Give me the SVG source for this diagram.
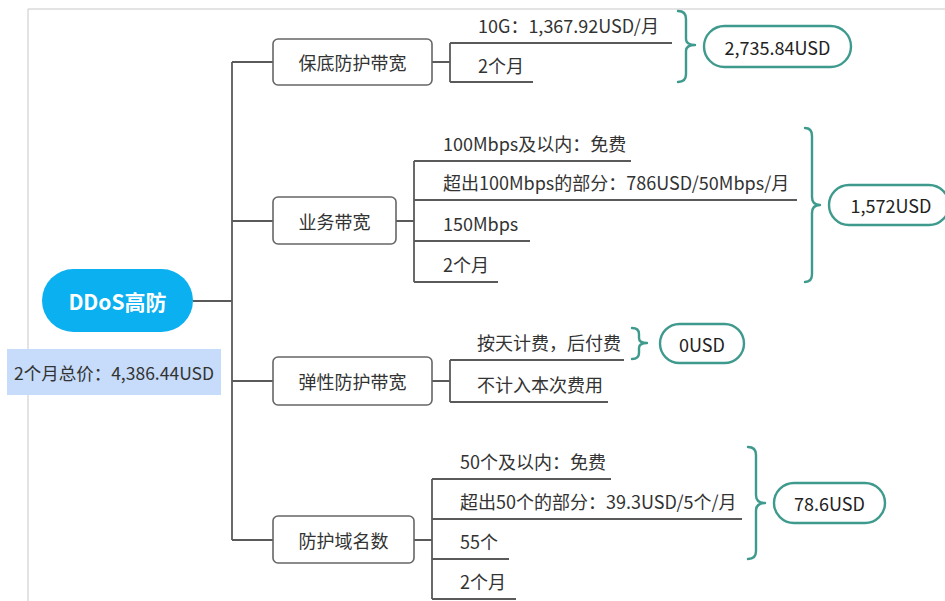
<svg xmlns="http://www.w3.org/2000/svg" width="945" height="601" viewBox="0 0 945 601">
<style>
text{font-family:"Noto Sans CJK SC","Microsoft YaHei","Noto Sans",sans-serif;fill:#333;}
.box{fill:#fff;stroke:#666;stroke-width:1.6;}
.ln{fill:none;stroke:#5a5a5a;stroke-width:1.8;}
.br{fill:none;stroke:#3f9a8e;stroke-width:2.4;stroke-linecap:round;stroke-linejoin:round;}
.pill{fill:#fff;stroke:#3f9a8e;stroke-width:2.4;}
.t{font-size:18px;}
.bt{font-size:18px;text-anchor:middle;dominant-baseline:central;}
.pt{font-size:18px;text-anchor:middle;dominant-baseline:central;fill:#222;}
</style>
<rect width="945" height="601" fill="#fff"/>
<path d="M28,601 V9 H945" fill="none" stroke="#c8c8c8" stroke-width="1"/>

<g id="connectors">
<path class="ln" d="M193,301 H232 M232,62 V540 M232,62 H273 M232,221 H273 M232,381 H273 M232,540 H273"/>
<path class="ln" d="M432,62 H450 M450,43 V82 M450,43 H672 M450,82 H533"/>
<path class="ln" d="M396,221 H414 M414,161 V282 M414,161 H631 M414,200 H797 M414,241 H530 M414,282 H498"/>
<path class="ln" d="M432,381 H450 M450,360 V402 M450,360 H624 M450,402 H608"/>
<path class="ln" d="M414,540 H432 M432,479 V599 M432,479 H611 M432,519 H742 M432,559 H509 M432,599 H516"/>
</g>

<g id="root">
<rect x="42" y="269" width="151" height="63" rx="31.5" fill="#0ab0ef"/>
<text x="117.5" y="301" font-size="21" font-weight="bold" text-anchor="middle" dominant-baseline="central" style="fill:#fff">DDoS高防</text>
</g>
<g id="total">
<rect x="7" y="349" width="214" height="46" fill="#c6dcfa"/>
<text x="114" y="372" font-size="17.5" text-anchor="middle" dominant-baseline="central">2个月总价：4,386.44USD</text>
</g>

<g id="n1">
<rect class="box" x="273" y="39" width="159" height="46" rx="5"/>
<text class="bt" x="352.5" y="62">保底防护带宽</text>
</g>
<g id="n1a"><text class="t" x="478" y="33">10G：1,367.92USD/月</text></g>
<g id="n1b"><text class="t" x="478" y="73">2个月</text></g>
<g id="s1">
<path class="br" d="M678,11 Q686,11 686,19 V39 Q686,45 695,45 Q686,45 686,51 V74 Q686,82 678,82"/>
<rect class="pill" x="704" y="26" width="147" height="41" rx="20.5"/>
<text class="pt" x="777.5" y="46.5">2,735.84USD</text>
</g>

<g id="n2">
<rect class="box" x="273" y="197" width="123" height="47" rx="5"/>
<text class="bt" x="334.5" y="221">业务带宽</text>
</g>
<g id="n2a"><text class="t" x="443" y="151">100Mbps及以内：免费</text></g>
<g id="n2b"><text class="t" x="443" y="190">超出100Mbps的部分：786USD/50Mbps/月</text></g>
<g id="n2c"><text class="t" x="443" y="231">150Mbps</text></g>
<g id="n2d"><text class="t" x="443" y="272">2个月</text></g>
<g id="s2">
<path class="br" d="M805,128 Q812,128 812,136 V197 Q812,205 820,205 Q812,205 812,213 V274 Q812,282 805,282"/>
<rect class="pill" x="829" y="185" width="120" height="40" rx="20"/>
<text class="pt" x="891" y="205">1,572USD</text>
</g>

<g id="n3">
<rect class="box" x="273" y="357" width="159" height="48" rx="5"/>
<text class="bt" x="352.5" y="381">弹性防护带宽</text>
</g>
<g id="n3a"><text class="t" x="477" y="350">按天计费，后付费</text></g>
<g id="n3b"><text class="t" x="477" y="392">不计入本次费用</text></g>
<g id="s3">
<path class="br" d="M632,328 Q639,328 639,334 V338 Q639,343 647,343 Q639,343 639,348 V353 Q639,359 632,359"/>
<rect class="pill" x="660" y="324" width="84" height="39" rx="19.5"/>
<text class="pt" x="702" y="343.5">0USD</text>
</g>

<g id="n4">
<rect class="box" x="273" y="516" width="141" height="47" rx="5"/>
<text class="bt" x="343.5" y="540">防护域名数</text>
</g>
<g id="n4a"><text class="t" x="460" y="469">50个及以内：免费</text></g>
<g id="n4b"><text class="t" x="460" y="509">超出50个的部分：39.3USD/5个/月</text></g>
<g id="n4c"><text class="t" x="460" y="549">55个</text></g>
<g id="n4d"><text class="t" x="460" y="589">2个月</text></g>
<g id="s4">
<path class="br" d="M748,447 Q756,447 756,455 V495 Q756,503 765,503 Q756,503 756,511 V551 Q756,559 748,559"/>
<rect class="pill" x="774" y="483" width="111" height="40" rx="20"/>
<text class="pt" x="829.5" y="503">78.6USD</text>
</g>
</svg>
